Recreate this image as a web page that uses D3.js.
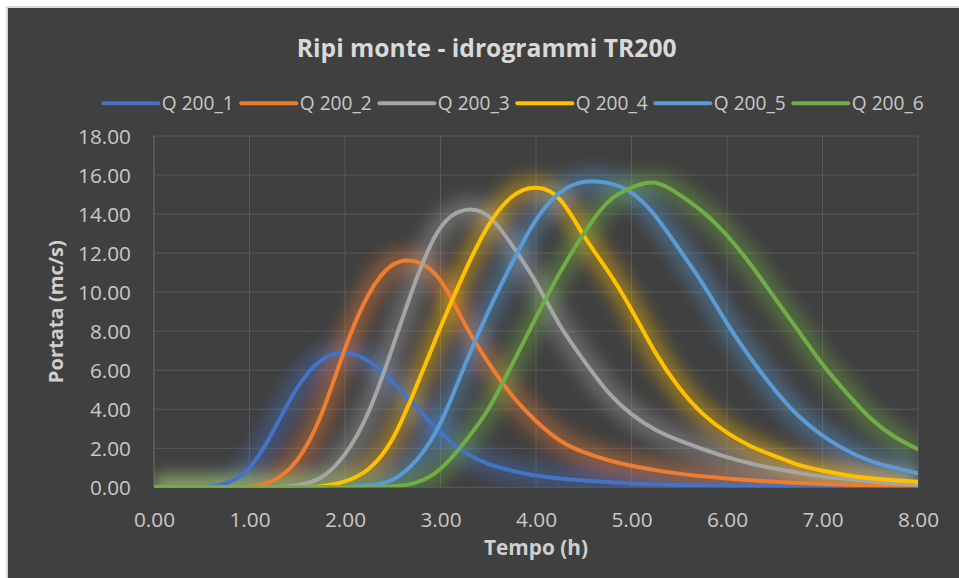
<!DOCTYPE html>
<html>
<head>
<meta charset="utf-8">
<script src="https://cdn.jsdelivr.net/npm/d3@7"></script>
<style>
  html, body { margin: 0; padding: 0; background: #ffffff; }
  svg { display: block; }
</style>
</head>
<body>
<svg id="chart" width="959" height="578"></svg>
<script>
// ---- data ----
const chartTitle = "Ripi monte - idrogrammi TR200";
const xTitle = "Tempo (h)";
const yTitle = "Portata (mc/s)";
const seriesNames = ["Q 200_1", "Q 200_2", "Q 200_3", "Q 200_4", "Q 200_5", "Q 200_6"];
const xTicks = [0, 1, 2, 3, 4, 5, 6, 7, 8];
const yTicks = [0, 2, 4, 6, 8, 10, 12, 14, 16, 18];
const hours = [0, 0.25, 0.5, 0.75, 1, 1.25, 1.5, 1.75, 2, 2.25, 2.5, 2.75, 3, 3.25, 3.5, 3.75, 4,
               4.25, 4.5, 4.75, 5, 5.25, 5.5, 5.75, 6, 6.25, 6.5, 6.75, 7, 7.25, 7.5, 7.75, 8];
const q200_1 = [0,0,0.01,0.2,1.0,2.9,5.1,6.5,6.9,6.45,5.4,4.1,2.8,1.8,1.2,0.85,0.6,0.45,0.35,0.27,0.2,0.16,0.12,0.1,0.08,0.06,0.05,0.04,0.03,0.03,0.02,0.02,0.01];
const q200_2 = [0,0,0,0,0.03,0.35,1.4,3.7,7.1,9.9,11.4,11.55,10.6,8.4,6.4,4.7,3.4,2.4,1.8,1.4,1.1,0.88,0.7,0.56,0.45,0.36,0.28,0.22,0.17,0.13,0.1,0.07,0.05];
const q200_3 = [0,0,0,0,0,0,0.1,0.5,1.7,3.9,7.2,10.7,13.3,14.2,13.9,12.4,10.5,8.3,6.5,4.9,3.75,2.95,2.4,1.95,1.55,1.22,0.96,0.74,0.56,0.42,0.3,0.2,0.13];
const q200_4 = [0,0,0,0,0,0,0,0.05,0.3,0.95,2.5,5.2,8.2,11.0,13.4,14.9,15.35,14.75,12.9,11.1,9.1,6.9,5.1,3.75,2.8,2.1,1.6,1.15,0.85,0.62,0.46,0.36,0.29];
const q200_5 = [0,0,0,0,0,0,0,0,0.02,0.1,0.4,1.4,3.3,6.2,9.0,11.5,13.7,15.1,15.65,15.6,15.1,13.9,12.2,10.4,8.4,6.6,5.0,3.65,2.65,1.9,1.35,1.0,0.72];
const q200_6 = [0,0,0,0,0,0,0,0,0,0.01,0.05,0.25,0.95,2.3,4.0,6.3,8.7,11.0,13.0,14.6,15.35,15.6,15.0,14.1,12.9,11.4,9.7,8.0,6.3,4.85,3.55,2.6,1.95];
const seriesValues = [q200_1, q200_2, q200_3, q200_4, q200_5, q200_6];
const seriesColors = ["#4472C4", "#ED7D31", "#A5A5A5", "#FFC000", "#5B9BD5", "#70AD47"];

// ---- layout ----
const W = 959, H = 578;
const plot = { left: 154, right: 918, top: 136, bottom: 487.3 };
const FONT = "'Open Sans', 'Noto Sans', sans-serif";

const svg = d3.select("#chart");
const defs = svg.append("defs");

const glow = defs.append("filter").attr("id", "glow")
  .attr("filterUnits", "userSpaceOnUse")
  .attr("x", 0).attr("y", 0).attr("width", W).attr("height", H);
glow.append("feGaussianBlur").attr("stdDeviation", 8);

defs.append("clipPath").attr("id", "plotClip")
  .append("rect")
  .attr("x", plot.left).attr("y", plot.top)
  .attr("width", plot.right - plot.left).attr("height", plot.bottom - plot.top);

// background
svg.append("rect").attr("x", 7).attr("y", 7).attr("width", W + 10).attr("height", H + 10)
  .attr("fill", "#404040").attr("stroke", "#d9d9d9").attr("stroke-width", 2);

const x = d3.scaleLinear().domain([0, 8]).range([plot.left, plot.right]);
const y = d3.scaleLinear().domain([0, 18]).range([plot.bottom, plot.top]);

// helper: fit font size so that a sample string reaches a target width
function fitSize(sample, weight, target, base) {
  const t = svg.append("text").attr("font-family", FONT).attr("font-weight", weight)
    .attr("font-size", base).text(sample);
  const w = t.node().getComputedTextLength();
  t.remove();
  return base * target / w;
}
const tickSize = fitSize("18.00", 400, 53, 20);
const legendSize = fitSize("Q 200_1", 400, 72, 20);
const titleSize = fitSize(chartTitle, 700, 380, 26);
const xTitleSize = fitSize(xTitle, 700, 104, 20);
const yTitleSize = fitSize(yTitle, 700, 143, 20);

// gridlines
const grid = svg.append("g");
grid.selectAll("line.h").data(yTicks).join("line")
  .attr("x1", plot.left).attr("x2", plot.right)
  .attr("y1", d => y(d)).attr("y2", d => y(d))
  .attr("stroke", "#595959").attr("stroke-width", 1);
grid.selectAll("line.v").data(xTicks).join("line")
  .attr("x1", d => x(d)).attr("x2", d => x(d))
  .attr("y1", plot.top).attr("y2", plot.bottom)
  .attr("stroke", d => d === 0 ? "#6e6e6e" : "#595959").attr("stroke-width", 1);

// axes (labels only)
const xAxis = svg.append("g").attr("transform", `translate(0,${plot.bottom})`)
  .call(d3.axisBottom(x).tickValues(xTicks).tickFormat(d3.format(".2f")).tickSize(0));
xAxis.select(".domain").remove();
xAxis.selectAll("text").attr("y", 39.4).attr("dy", null)
  .attr("font-family", FONT).attr("font-size", tickSize).attr("fill", "#c8c8c8");

const yAxis = svg.append("g").attr("transform", `translate(${plot.left},0)`)
  .call(d3.axisLeft(y).tickValues(yTicks).tickFormat(d3.format(".2f")).tickSize(0));
yAxis.select(".domain").remove();
yAxis.selectAll("text").attr("x", -23).attr("dy", "0.36em")
  .attr("font-family", FONT).attr("font-size", tickSize).attr("fill", "#c8c8c8");

// series
const line = d3.line()
  .x((d, i) => x(hours[i]))
  .y(d => y(d))
  .curve(d3.curveNatural);

const plotG = svg.append("g").attr("clip-path", "url(#plotClip)");
const glowG = plotG.append("g").attr("filter", "url(#glow)");
glowG.selectAll("path").data(seriesValues).join("path")
  .attr("d", d => line(d))
  .attr("fill", "none")
  .attr("stroke", (d, i) => seriesColors[i])
  .attr("stroke-opacity", 0.4)
  .attr("stroke-width", 24)
  .attr("stroke-linejoin", "round");
plotG.append("g").selectAll("path").data(seriesValues).join("path")
  .attr("d", d => line(d))
  .attr("fill", "none")
  .attr("stroke", (d, i) => seriesColors[i])
  .attr("stroke-width", 4)
  .attr("stroke-linejoin", "round")
  .attr("stroke-linecap", "round");

// title
svg.append("text").attr("x", 486.7).attr("y", 56.5).attr("text-anchor", "middle")
  .attr("font-family", FONT).attr("font-weight", 700).attr("font-size", titleSize)
  .attr("fill", "#d9d9d9").text(chartTitle);

// legend
const legendStart = 103.3, legendStep = 138, legendY = 103.3;
const lg = svg.append("g").selectAll("g").data(seriesNames).join("g")
  .attr("transform", (d, i) => `translate(${legendStart + i * legendStep},${legendY})`);
lg.append("line").attr("x1", 0).attr("x2", 55).attr("y1", 0).attr("y2", 0)
  .attr("stroke", (d, i) => seriesColors[i]).attr("stroke-width", 4).attr("stroke-linecap", "round");
lg.append("text").attr("x", 58.5).attr("y", 7)
  .attr("font-family", FONT).attr("font-size", legendSize).attr("fill", "#c8c8c8")
  .text(d => d);

// axis titles
svg.append("text").attr("x", 536).attr("y", 555).attr("text-anchor", "middle")
  .attr("font-family", FONT).attr("font-weight", 700).attr("font-size", xTitleSize)
  .attr("fill", "#cfcfcf").text(xTitle);
svg.append("text").attr("transform", `translate(63,${(plot.top + plot.bottom) / 2}) rotate(-90)`)
  .attr("text-anchor", "middle")
  .attr("font-family", FONT).attr("font-weight", 700).attr("font-size", yTitleSize)
  .attr("fill", "#cfcfcf").text(yTitle);
</script>
</body>
</html>
